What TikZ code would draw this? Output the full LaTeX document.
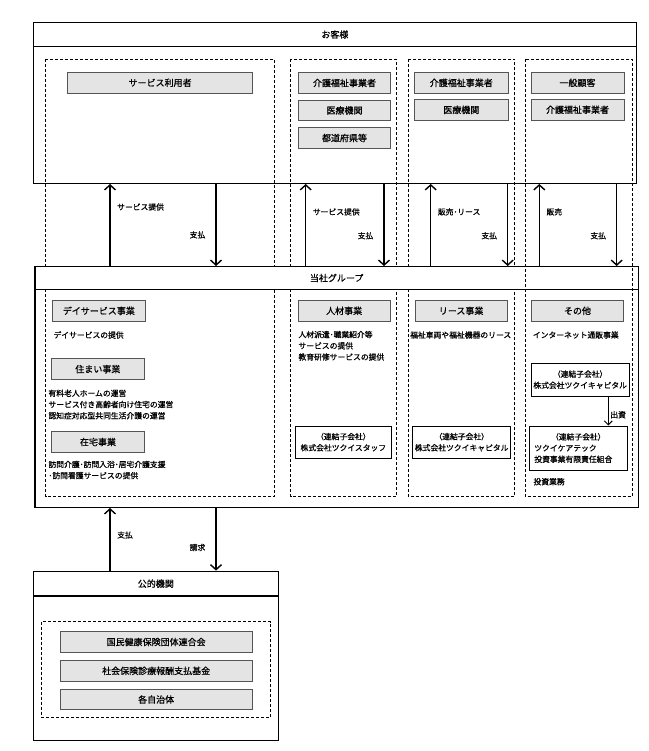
\documentclass[tikz,border=0pt]{standalone}
\usepackage{fontspec}
\setmainfont{Noto Sans CJK JP}[FakeBold=0.8]
\usetikzlibrary{positioning}
\usetikzlibrary{arrows.meta}
\definecolor{bx}{RGB}{228,228,228}
\definecolor{bd}{RGB}{85,85,85}

\begin{document}
\begin{tikzpicture}[
    x=1pt, y=-1pt,
    font=\fontsize{7.8}{11.2}\selectfont,
    a/.style={
        line width=1.4pt,
    },
    l/.style={
        a,-{Straight Barb[length=5pt,width=11pt]}
    },
    o/.style={
        draw, line width=1.4pt, inner sep=0pt
    },
    h/.style={
        o, fill=white, minimum height=24.5pt,
        font=\fontsize{9}{11}\selectfont
    },
    g/.style={
        fill=bx, draw=bd, line width=0.8pt,
        minimum height=20.6pt, inner sep=0pt,
        font=\fontsize{9}{11}\selectfont
    },
    w/.style={
        draw, fill=white, line width=0.9pt, inner sep=0pt,
        align=center
    },
    d/.style={
        dash pattern=on 3pt off 2pt, line width=0.7pt
    },
    t/.style={
        anchor=west, inner sep=0pt, align=left
    },
    e/.style={
        pos=#1, right=6.5pt, inner sep=0pt
    },
    f/.style={
        pos=#1, left=10pt, inner sep=0pt
    }
]

    \useasboundingbox (0,0) rectangle (648,751);

    % customers
    \node [o, minimum width=603.2pt, minimum height=161pt] (k) at (334.9, 102.8) {};
    \node [h, minimum width=603.2pt] (kh) at (334.9, 34.5) {お客様};

    \draw [d] (45.7, 59) rectangle (274.3, 496.5);
    \draw [d] (290.7, 59) rectangle (396.5, 496.5);
    \draw [d] (408.3, 59) rectangle (514.7, 496.5);

    % group
    \node [o, minimum width=603.3pt, minimum height=240.6pt] (gb) at (336.65, 387) {};
    \node [h, minimum width=603.3pt, minimum height=22.6pt] (gh) at (336.65, 278) {当社グループ};
    \draw [d] (525, 59) rectangle (632, 496.5);

    \node [g, minimum width=184.8pt] (u)  at (160.1, 82.8) {サービス利用者};
    \node [g, minimum width=92.4pt]  (k1) at (344.5, 83)   {介護福祉事業者};
    \node [g, minimum width=92.4pt]  (k2) at (344.5, 110.4) {医療機関};
    \node [g, minimum width=92.4pt]  (k3) at (344.5, 138)  {都道府県等};
    \node [g, minimum width=94pt]    (r1) at (461.3, 82.9) {介護福祉事業者};
    \node [g, minimum width=94pt]    (r2) at (461.3, 109.9) {医療機関};
    \node [g, minimum width=93pt]    (s1) at (577.5, 82.8) {一般顧客};
    \node [g, minimum width=93pt]    (s2) at (577.5, 109.7) {介護福祉事業者};

    \node [g, minimum width=92.3pt] (dy) at (98.85, 310.85) {デイサービス事業};
    \node [g, minimum width=92.3pt] (sm) at (97.85, 369.15) {住まい事業};
    \node [g, minimum width=92.6pt] (zt) at (98, 442)       {在宅事業};
    \node [g, minimum width=91.7pt] (jz) at (344.15, 310.85) {人材事業};
    \node [g, minimum width=92.3pt] (ls) at (461.15, 310.85) {リース事業};
    \node [g, minimum width=91.6pt] (ot) at (577.5, 310.85)  {その他};

    \node [t] (dyt) at (53.3, 335)  {デイサービスの提供};
    \node [t] (smt) at (48.3, 404.5) {有料老人ホームの運営\\サービス付き高齢者向け住宅の運営\\認知症対応型共同生活介護の運営};
    \node [t] (ztt) at (48.3, 470)  {訪問介護･訪問入浴･居宅介護支援\\･訪問看護サービスの提供};
    \node [t] (jzt) at (298.3, 345.8) {人材派遣･職業紹介等\\サービスの提供\\教育研修サービスの提供};
    \node [t] (lst) at (410, 335)   {福祉車両や福祉機器のリース};
    \node [t] (ott) at (532.7, 335) {インターネット通販事業};
    \node [t] (iv)  at (533.3, 481.7) {投資業務};

    \node [w, minimum width=96.7pt, minimum height=32.3pt] (ts) at (343.35, 442.15) {（連結子会社）\\株式会社ツクイスタッフ};
    \node [w, minimum width=98pt, minimum height=32.3pt] (tc) at (461.7, 442.15) {（連結子会社）\\株式会社ツクイキャピタル};
    \node [w, minimum width=98.3pt, minimum height=32.7pt] (tk) at (580.15, 379.65) {（連結子会社）\\株式会社ツクイキャピタル};
    \node [w, minimum width=98pt, minimum height=44pt, align=left] (tt) at (578.3, 448) {\makebox[88pt]{（連結子会社）}\\ツクイケアテック\\投資事業有限責任組合};

    \draw (tk.south -| 608.3,0) -- (tt.north -| 608.3,0) [line width=1pt,-{Straight Barb[length=4pt,width=8pt]}] node [pos=.63, right=1.5pt, inner sep=0pt] {出資};

    % public
    \node [o, minimum width=245pt, minimum height=169.4pt] (pb) at (155.8, 656) {};
    \node [h, minimum width=245pt, minimum height=24.7pt] (ph) at (155.8, 583.65) {公的機関};
    \draw [d] (41.7, 621.7) rectangle (270.7, 717.3);
    \node [g, minimum width=192.3pt] (p1) at (156.15, 642)    {国民健康保険団体連合会};
    \node [g, minimum width=192.3pt] (p2) at (156.15, 670.85) {社会保険診療報酬支払基金};
    \node [g, minimum width=192.3pt] (p3) at (156.15, 699.5)  {各自治体};

    \draw (gh.north -| 110,0) -- (k.south -| 110,0) [l] node [e=.72] {サービス提供};
    \draw (k.south -| 216,0) -- (gh.north -| 216,0) [l] node [f=.62] {支払};
    \draw (gh.north -| 305.7,0) -- (k.south -| 305.7,0) [l] node [e=.66] {サービス提供};
    \draw (k.south -| 384,0) -- (gh.north -| 384,0) [l] node [f=.63] {支払};
    \draw (gh.north -| 430.7,0) -- (k.south -| 430.7,0) [l] node [e=.66] {販売･リース};
    \draw (k.south -| 507.7,0) -- (gh.north -| 507.7,0) [l] node [f=.63] {支払};
    \draw (gh.north -| 539.3,0) -- (k.south -| 539.3,0) [l] node [e=.66] {販売};
    \draw (k.south -| 616.7,0) -- (gh.north -| 616.7,0) [l] node [f=.63] {支払};

    \draw (ph.north -| 110,0) -- (gb.south -| 110,0) [l] node [e=.57] {支払};
    \draw (gb.south -| 216,0) -- (ph.north -| 216,0) [l] node [f=.63] {請求};

\end{tikzpicture}
\end{document}
